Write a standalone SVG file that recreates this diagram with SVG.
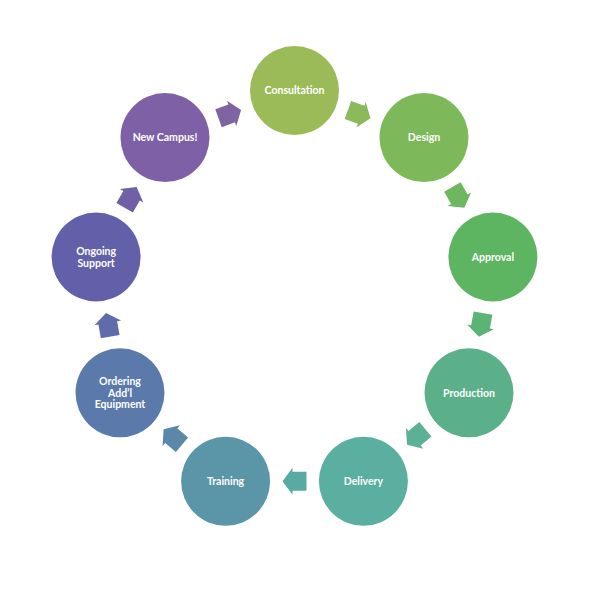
<svg xmlns="http://www.w3.org/2000/svg" width="615" height="605" viewBox="0 0 615 605">
<defs>
<style>
.n{stroke:none}
.t{font-family:Lato,"Open Sans","Liberation Sans",sans-serif;font-weight:bold;font-size:10.5px;fill:#ffffff;text-anchor:middle}
</style>
<polygon id="arr" points="-12,-9.5 2,-9.5 2,-13.5 12,0 2,13.5 2,9.5 -12,9.5"/>
</defs>
<rect width="615" height="605" fill="#ffffff"/>
<g id="connectors">
<use href="#arr" fill="#8cba5a" transform="translate(359.2,114.1) rotate(20)"/>
<use href="#arr" fill="#6db75e" transform="translate(458.4,197.4) rotate(60)"/>
<use href="#arr" fill="#5cb376" transform="translate(480.9,324.9) rotate(100)"/>
<use href="#arr" fill="#5bb095" transform="translate(416.2,437.0) rotate(140)"/>
<use href="#arr" fill="#5aa9a3" transform="translate(294.5,481.3) rotate(180)"/>
<use href="#arr" fill="#5b88a9" transform="translate(172.8,437.0) rotate(220)"/>
<use href="#arr" fill="#5e6daa" transform="translate(108.1,324.9) rotate(260)"/>
<use href="#arr" fill="#7060a7" transform="translate(130.6,197.4) rotate(300)"/>
<use href="#arr" fill="#8064a2" transform="translate(229.8,114.1) rotate(340)"/>
</g>
<g id="consultation"><circle class="n" cx="294.5" cy="90.5" r="44.5" fill="#9bbb59"/><text class="t" x="294.5" y="94">Consultation</text></g>
<g id="design"><circle class="n" cx="424" cy="137.6" r="44.5" fill="#7db85a"/><text class="t" x="424" y="141">Design</text></g>
<g id="approval"><circle class="n" cx="492.9" cy="257" r="44.5" fill="#5db562"/><text class="t" x="492.9" y="260.5">Approval</text></g>
<g id="production"><circle class="n" cx="469" cy="392.8" r="44.5" fill="#5bb08a"/><text class="t" x="469" y="396.5">Production</text></g>
<g id="delivery"><circle class="n" cx="363.4" cy="481.3" r="44.5" fill="#5aafa0"/><text class="t" x="363.4" y="485">Delivery</text></g>
<g id="training"><circle class="n" cx="225.6" cy="481.3" r="44.5" fill="#5b96a8"/><text class="t" x="225.6" y="485">Training</text></g>
<g id="ordering"><circle class="n" cx="120" cy="392.8" r="44.5" fill="#5b79aa"/><text class="t" x="120" y="385">Ordering</text><text class="t" x="120" y="396.5">Add’l</text><text class="t" x="120" y="408">Equipment</text></g>
<g id="ongoing-support"><circle class="n" cx="96.1" cy="257" r="44.5" fill="#6260a8"/><text class="t" x="96.1" y="255">Ongoing</text><text class="t" x="96.1" y="266.5">Support</text></g>
<g id="new-campus"><circle class="n" cx="165" cy="137.6" r="44.5" fill="#7e60a6"/><text class="t" x="165" y="141">New Campus!</text></g>
</svg>
